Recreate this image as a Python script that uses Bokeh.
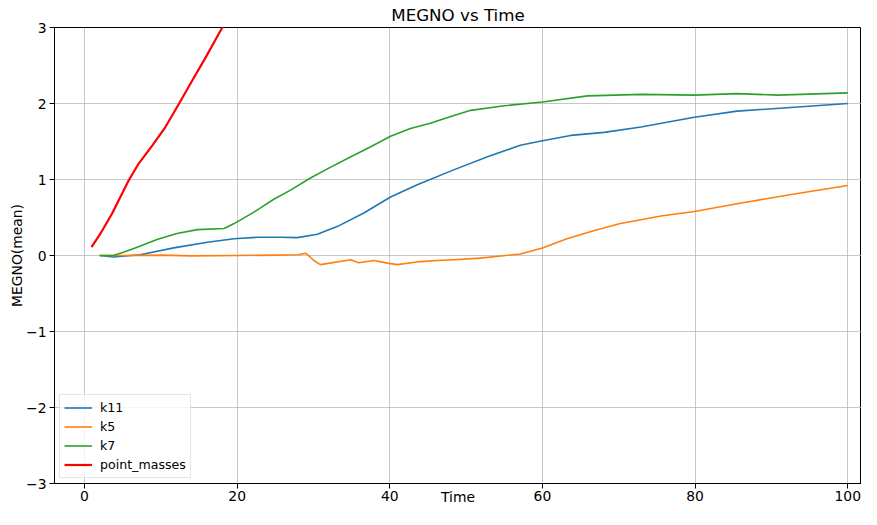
from bokeh.plotting import figure
from bokeh.models import Legend, LegendItem, FixedTicker
from bokeh.embed import file_html
from bokeh.resources import INLINE

# ---- data ----
k11_x = [2, 3.8, 7.3, 11.7, 16.1, 19.6, 22.6, 25.7, 27.9, 30.5, 33.1, 36.6, 40.1, 43.6, 48.2, 52.8, 57.1, 60.0, 63.7, 68.1, 72.9, 79.9, 85.5, 93.0, 100]
k11_y = [0.0, -0.02, 0.01, 0.10, 0.175, 0.22, 0.24, 0.24, 0.235, 0.28, 0.38, 0.56, 0.77, 0.93, 1.12, 1.30, 1.45, 1.51, 1.58, 1.62, 1.69, 1.82, 1.90, 1.95, 2.0]

k5_x = [2, 5, 10, 14, 20, 25, 28, 29, 30.05, 30.9, 34.9, 35.9, 37.9, 39.7, 41.0, 44.0, 46.2, 48.4, 51.9, 57.1, 60.0, 63.2, 66.8, 70.2, 72.9, 75.5, 79.9, 85.5, 93.0, 100]
k5_y = [0.0, 0.0, 0.005, -0.005, 0.0, 0.005, 0.01, 0.03, -0.066, -0.12, -0.057, -0.096, -0.066, -0.10, -0.12, -0.08, -0.066, -0.055, -0.035, 0.02, 0.10, 0.22, 0.33, 0.42, 0.47, 0.52, 0.58, 0.68, 0.81, 0.92]

k7_x = [2, 3.8, 5.2, 6.9, 9.5, 12.1, 14.8, 18.3, 19.6, 22.2, 24.8, 27.0, 29.6, 32.2, 34.9, 37.5, 40.1, 42.7, 45.3, 48.0, 50.6, 55.0, 60.0, 65.9, 72.9, 79.9, 85.5, 90.8, 100]
k7_y = [0.0, 0.0, 0.045, 0.11, 0.21, 0.29, 0.34, 0.355, 0.42, 0.57, 0.74, 0.86, 1.02, 1.16, 1.30, 1.43, 1.57, 1.67, 1.74, 1.83, 1.91, 1.97, 2.02, 2.10, 2.12, 2.11, 2.13, 2.11, 2.14]

pm_x = [0.92, 2.1, 3.6, 5.8, 7.1, 8.9, 10.6, 12.4, 14.1, 15.9, 18.05, 19.5]
pm_y = [0.11, 0.29, 0.55, 0.99, 1.21, 1.45, 1.69, 2.0, 2.30, 2.61, 3.0, 3.25]

x_ticks = [0, 20, 40, 60, 80, 100]
y_ticks = [-3, -2, -1, 0, 1, 2, 3]
y_tick_labels = ["\u22123", "\u22122", "\u22121", "0", "1", "2", "3"]

FONT = "DejaVu Sans"

p = figure(width=861, height=509, x_range=(-3.93, 101.8), y_range=(-3, 3),
           output_backend="svg", toolbar_location=None, title="MEGNO vs Time")
p.min_border_left = 54
p.min_border_right = 0
p.min_border_top = 0
p.min_border_bottom = 26
p.background_fill_color = "white"
p.border_fill_color = "white"
p.outline_line_color = "black"
p.outline_line_width = 1

p.title.text_font = FONT
p.title.text_font_size = "16.7px"
p.title.text_font_style = "normal"
p.title.align = "center"
p.title.text_color = "black"
p.title.standoff = 5

for ax in (p.xaxis[0], p.yaxis[0]):
    ax.axis_line_color = "black"
    ax.major_tick_line_color = "black"
    ax.major_tick_out = 5
    ax.major_tick_in = 0
    ax.minor_tick_line_color = None
    ax.major_label_text_font = FONT
    ax.major_label_text_font_size = "13.9px"
    ax.major_label_text_color = "black"
    ax.axis_label_text_font = FONT
    ax.axis_label_text_font_size = "13.9px"
    ax.axis_label_text_font_style = "normal"
    ax.axis_label_text_color = "black"

p.xaxis.major_label_standoff = 2
p.xaxis.axis_label_standoff = -15
p.yaxis.major_label_standoff = 3
p.yaxis.axis_label_standoff = -2

p.xaxis.axis_label = "Time"
p.yaxis.axis_label = "MEGNO(mean)"
p.xaxis.ticker = FixedTicker(ticks=x_ticks)
p.yaxis.ticker = FixedTicker(ticks=y_ticks)
p.yaxis.major_label_overrides = {t: l for t, l in zip(y_ticks, y_tick_labels)}

p.xgrid.ticker = FixedTicker(ticks=x_ticks)
p.ygrid.ticker = FixedTicker(ticks=y_ticks)
for g in (p.xgrid[0], p.ygrid[0]):
    g.grid_line_color = "#b0b0b0"
    g.grid_line_alpha = 0.7
    g.grid_line_width = 1

r1 = p.line(k11_x, k11_y, line_color="#1f77b4", line_width=1.6, line_join="round")
r2 = p.line(k5_x, k5_y, line_color="#ff7f0e", line_width=1.6, line_join="round")
r3 = p.line(k7_x, k7_y, line_color="#2ca02c", line_width=1.6, line_join="round")
r4 = p.line(pm_x, pm_y, line_color="#ff0000", line_width=2.2, line_join="round")

legend = Legend(items=[
    LegendItem(label="k11", renderers=[r1]),
    LegendItem(label="k5", renderers=[r2]),
    LegendItem(label="k7", renderers=[r3]),
    LegendItem(label="point_masses", renderers=[r4]),
], location="bottom_left")
legend.margin = 5
legend.padding = 4
legend.spacing = 2
legend.label_height = 17
legend.glyph_height = 17
legend.glyph_width = 28
legend.label_standoff = 8
legend.label_text_font = FONT
legend.label_text_font_size = "12.6px"
legend.label_text_color = "black"
legend.border_line_color = "#cccccc"
legend.border_line_width = 1
legend.background_fill_alpha = 0.8
p.add_layout(legend)

open("out.html", "w").write(file_html(p, INLINE))
